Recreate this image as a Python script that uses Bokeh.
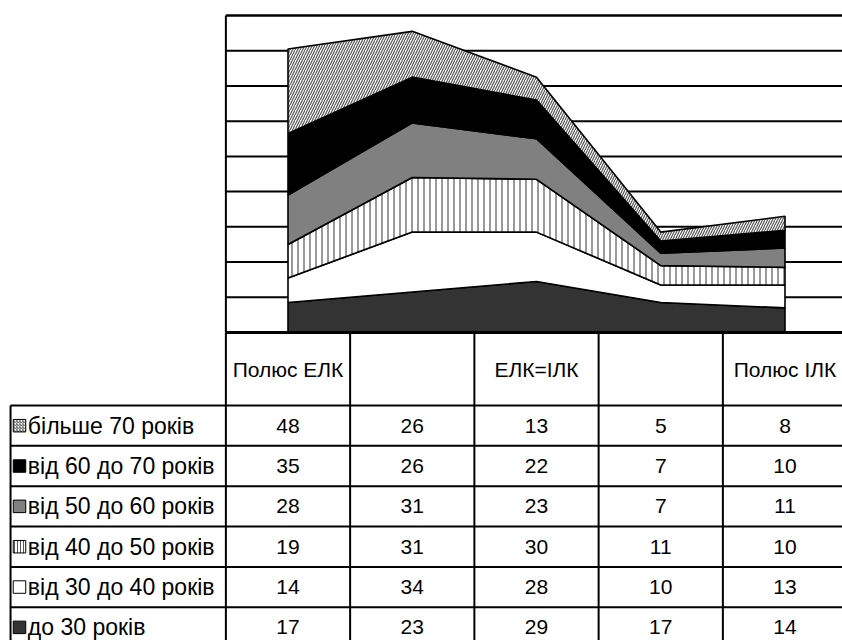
import numpy as np
from bokeh.plotting import figure
from bokeh.models import Range1d
from bokeh.core.properties import value
from bokeh.embed import file_html
from bokeh.resources import INLINE

# ---------------- data ----------------
categories = ["Полюс ЕЛК", "", "ЕЛК=ІЛК", "", "Полюс ІЛК"]
series_labels = ["до 30 років", "від 30 до 40 років", "від 40 до 50 років",
                 "від 50 до 60 років", "від 60 до 70 років", "більше 70 років"]
under30 = [17, 23, 29, 17, 14]
age30_40 = [14, 34, 28, 10, 13]
age40_50 = [19, 31, 30, 11, 10]
age50_60 = [28, 31, 23, 7, 11]
age60_70 = [35, 26, 22, 7, 10]
over70 = [48, 26, 13, 5, 8]
grid_values = [20, 40, 60, 80, 100, 120, 140, 160]
y_max = 180

series_values = [under30, age30_40, age40_50, age50_60, age60_70, over70]

# styles (bottom to top)
styles = [
    dict(fill_color="#333333", hatch_pattern=None, hatch_color=None),
    dict(fill_color="white", hatch_pattern=None, hatch_color=None),
    dict(fill_color="white", hatch_pattern="|", hatch_color="#555555"),
    dict(fill_color="#808080", hatch_pattern=None, hatch_color=None),
    dict(fill_color="black", hatch_pattern=None, hatch_color=None),
    dict(fill_color="white", hatch_pattern="/", hatch_color="#555555"),
]

W, H = 842, 640
# x: category index units; y: value units; extra range "table": row units
x_start, x_end = -2.3139, 4.4628
y_start, y_end = -174.89, 188.52
FONT = value("Liberation Sans")
FS = "21px"

p = figure(width=W, height=H, output_backend="svg", toolbar_location=None,
           x_range=Range1d(x_start, x_end), y_range=Range1d(y_start, y_end),
           x_axis_location=None, y_axis_location=None, min_border=0)
p.grid.visible = False
p.outline_line_color = None
p.background_fill_color = "white"
p.border_fill_color = "white"
p.extra_y_ranges = {"table": Range1d(start=5.825, end=-10.04)}

n = len(categories)
xs = list(range(n))
left_edge = -0.5
right_edge = x_end + 0.1
legend_left = -2.233

# gridlines
p.segment(x0=[left_edge] * len(grid_values), y0=grid_values,
          x1=[right_edge] * len(grid_values), y1=grid_values,
          line_color="black", line_width=2)

# stacked areas
cum = np.zeros(n)
for vals, st in zip(series_values, styles):
    lower = cum.copy()
    upper = cum + np.array(vals, dtype=float)
    px = xs + xs[::-1]
    py = list(upper) + list(lower[::-1])
    kw = dict(fill_color=st["fill_color"], line_color="black", line_width=1.6)
    if st["hatch_pattern"]:
        kw.update(hatch_pattern=st["hatch_pattern"], hatch_color=st["hatch_color"],
                  hatch_weight=1.2, hatch_scale=6 if st["hatch_pattern"] == "|" else 5)
    p.patch(px, py, **kw)
    cum = upper

# plot frame
p.segment(x0=[left_edge], y0=[y_max], x1=[right_edge], y1=[y_max], line_color="black", line_width=2.5)
p.segment(x0=[left_edge], y0=[0], x1=[left_edge], y1=[y_max], line_color="black", line_width=2)
p.segment(x0=[left_edge], y0=[0], x1=[right_edge], y1=[0], line_color="black", line_width=3)

# table: vertical column lines
bounds = [i - 0.5 for i in range(n)]
p.segment(x0=bounds, y0=[0] * n, x1=bounds, y1=[y_start] * n, line_color="black", line_width=2)

# table: row lines
rows_top_down = list(reversed(range(len(series_labels))))  # series index per row
nrows = len(series_labels)
row_lines = list(range(nrows + 1))
p.segment(x0=[legend_left] * len(row_lines), y0=row_lines,
          x1=[right_edge] * len(row_lines), y1=row_lines,
          line_color="black", line_width=2, y_range_name="table")
p.segment(x0=[legend_left], y0=[0], x1=[legend_left], y1=[nrows], line_color="black",
          line_width=2, y_range_name="table")

# header labels
p.text(x=xs, y=[-0.9] * n, text=categories, text_align="center", text_baseline="middle",
       text_font=FONT, text_font_size=FS, text_color="black", y_range_name="table")

# rows
for r, si in enumerate(rows_top_down):
    st = styles[si]
    kw = dict(fill_color=st["fill_color"], line_color="black", line_width=1)
    if st["hatch_pattern"]:
        kw.update(hatch_pattern=st["hatch_pattern"], hatch_color=st["hatch_color"],
                  hatch_weight=1, hatch_scale=3)
    p.scatter(x=[-2.161], y=[r + 0.5], marker="square", size=12.5, y_range_name="table", **kw)
    p.text(x=[-2.0936], y=[r + 0.5], text=[series_labels[si]], text_align="left",
           text_baseline="middle", text_font=FONT, text_font_size="23px", text_color="black",
           y_range_name="table")
    p.text(x=xs, y=[r + 0.5] * n, text=[str(v) for v in series_values[si]],
           text_align="center", text_baseline="middle", text_font=FONT,
           text_font_size=FS, text_color="black", y_range_name="table")

open("out.html", "w").write(file_html(p, INLINE))
